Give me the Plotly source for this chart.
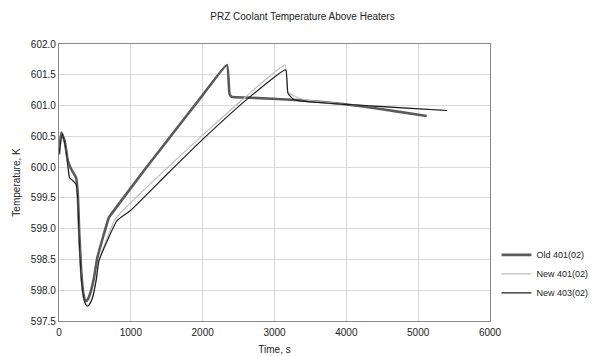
import plotly.graph_objects as go

# Old 401(02)
old_t = [0, 32, 78, 123, 169, 237, 260, 283, 310, 335, 355, 374, 400, 440, 490, 534, 694, 717, 1200, 1700, 2000, 2338, 2374, 2406, 2612, 3300, 3986, 4671, 5119]
old_T = [600.21, 600.56, 600.43, 600.10, 599.97, 599.83, 599.60, 598.90, 598.30, 597.98, 597.86, 597.82, 597.85, 597.97, 598.22, 598.53, 599.18, 599.22, 599.97, 600.72, 601.17, 601.66, 601.19, 601.14, 601.13, 601.09, 601.02, 600.91, 600.83]

# New 401(02)
n401_t = [0, 46, 100, 146, 192, 237, 260, 283, 310, 340, 370, 397, 425, 470, 520, 557, 785, 1300, 2000, 2616, 3150, 3185, 3300, 3500, 3986, 4671, 5401]
n401_T = [600.21, 600.54, 600.27, 599.83, 599.78, 599.72, 599.50, 598.80, 598.20, 597.90, 597.78, 597.75, 597.78, 597.90, 598.20, 598.49, 599.16, 599.76, 600.52, 601.16, 601.66, 601.22, 601.14, 601.08, 601.02, 600.97, 600.92]

# New 403(02)
n403_t = [0, 46, 100, 146, 192, 237, 260, 283, 310, 340, 370, 397, 425, 470, 520, 557, 808, 991, 1500, 2000, 2616, 3155, 3187, 3279, 3986, 4671, 5401]
n403_T = [600.21, 600.54, 600.27, 599.83, 599.78, 599.72, 599.50, 598.80, 598.20, 597.90, 597.77, 597.74, 597.77, 597.89, 598.18, 598.48, 599.13, 599.29, 599.88, 600.45, 601.10, 601.58, 601.20, 601.09, 601.02, 600.97, 600.92]

x_ticks = [0, 1000, 2000, 3000, 4000, 5000, 6000]
y_ticks = [597.5, 598.0, 598.5, 599.0, 599.5, 600.0, 600.5, 601.0, 601.5, 602.0]

fig = go.Figure()
fig.add_trace(go.Scatter(x=old_t, y=old_T, mode="lines", name="Old 401(02)",
                         line=dict(color="#5a5a5a", width=2.6, shape="spline", smoothing=0.4)))
fig.add_trace(go.Scatter(x=n401_t, y=n401_T, mode="lines", name="New 401(02)",
                         line=dict(color="#bdbdbd", width=1.2, shape="spline", smoothing=0.4)))
fig.add_trace(go.Scatter(x=n403_t, y=n403_T, mode="lines", name="New 403(02)",
                         line=dict(color="#1e1e1e", width=1.2, shape="spline", smoothing=0.4)))

font = "Liberation Sans, Arial, sans-serif"
fig.update_layout(
    width=605, height=356,
    margin=dict(l=59, r=108, t=44, b=35),
    paper_bgcolor="white", plot_bgcolor="white",
    font=dict(family=font, size=10, color="#222"),
    title=dict(text="PRZ Coolant Temperature Above Heaters", x=0.5, xanchor="center",
               y=1 - 16 / 356, yanchor="middle", font=dict(size=10, family=font, color="#222")),
    showlegend=True,
    legend=dict(x=1.015, xanchor="left", y=0.17, yanchor="middle",
                font=dict(size=9, family=font), itemwidth=30, tracegroupgap=0,
                bgcolor="rgba(0,0,0,0)"),
    xaxis=dict(range=[0, 6000], tickvals=x_ticks, ticktext=[str(v) for v in x_ticks],
               showgrid=True, gridcolor="#d9d9d9", gridwidth=1,
               showline=True, linecolor="#888", linewidth=1.2, mirror=True,
               zeroline=False, ticks="", tickfont=dict(size=10), ticklabelstandoff=2,
               automargin=False,
               title=dict(text="Time, s", font=dict(size=10), standoff=8)),
    yaxis=dict(range=[597.5, 602.0], tickvals=y_ticks, ticktext=[f"{v:.1f}" for v in y_ticks],
               showgrid=True, gridcolor="#d9d9d9", gridwidth=1,
               showline=True, linecolor="#888", linewidth=1.2, mirror=True,
               zeroline=False, ticks="", tickfont=dict(size=10),
               title=dict(text="Temperature, K", font=dict(size=10), standoff=8)),
)

fig.write_html("out.html")
